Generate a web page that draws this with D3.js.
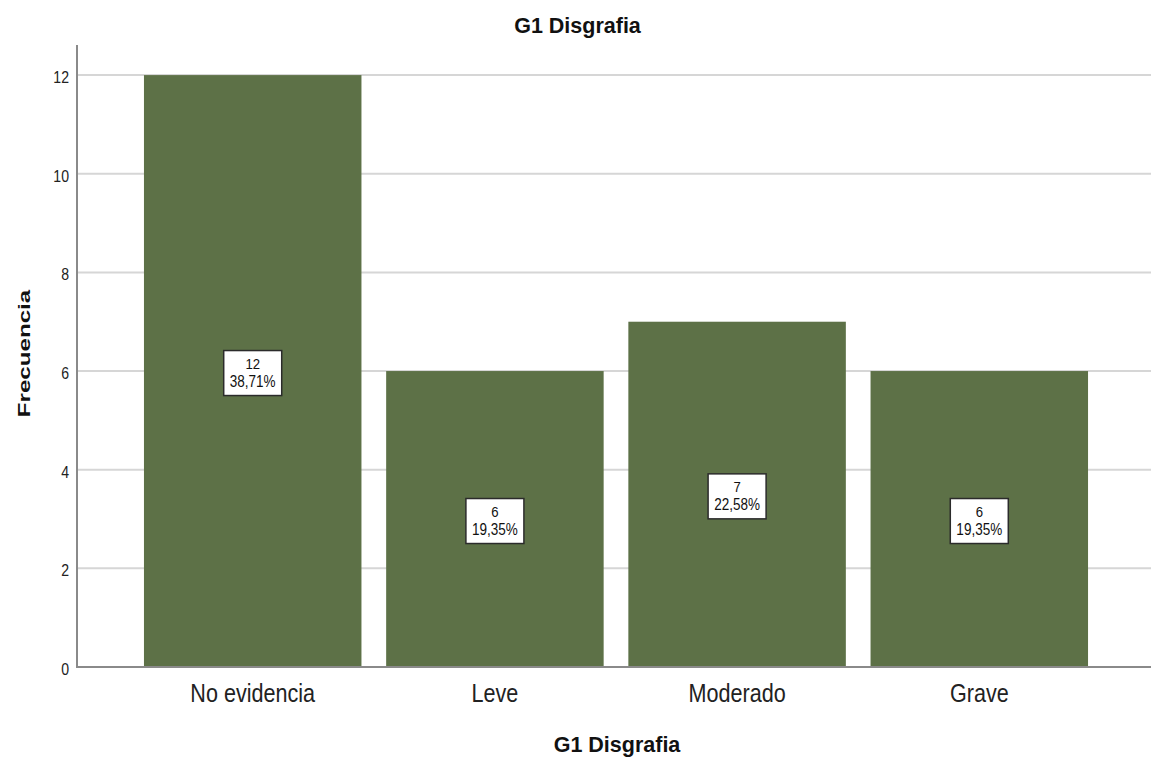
<!DOCTYPE html>
<html>
<head>
<meta charset="utf-8">
<script src="https://cdn.jsdelivr.net/npm/d3@7"></script>
<style>
  html, body { margin: 0; padding: 0; background: #fff; }
  svg { display: block; font-family: "Liberation Sans", Arial, sans-serif; }
</style>
</head>
<body>
<svg id="chart" width="1151" height="758"></svg>
<script>
// Frequency of G1 Disgrafia levels
const categories = ["No evidencia", "Leve", "Moderado", "Grave"];
const counts = [12, 6, 7, 6];
const percents = ["38,71%", "19,35%", "22,58%", "19,35%"];
const yTicks = [0, 2, 4, 6, 8, 10, 12];

const svg = d3.select("#chart");
const plotLeft = 77, plotRight = 1151, plotTop = 45, plotBottom = 667;

const x = d3.scaleBand()
  .domain(categories)
  .range([plotLeft, 1155])
  .paddingInner(0.102)
  .paddingOuter(0.2765);

const y = d3.scaleLinear()
  .domain([0, 12.61])
  .range([plotBottom, plotTop]);

const barColor = "#5d7147";

// horizontal grid lines
svg.append("g")
  .selectAll("line")
  .data(yTicks.filter(d => d > 0))
  .join("line")
  .attr("x1", plotLeft).attr("x2", plotRight)
  .attr("y1", d => y(d)).attr("y2", d => y(d))
  .attr("stroke", "#d6d6d6")
  .attr("stroke-width", 2);

// bars
svg.append("g")
  .selectAll("rect")
  .data(categories)
  .join("rect")
  .attr("x", d => x(d))
  .attr("y", (d, i) => y(counts[i]))
  .attr("width", x.bandwidth())
  .attr("height", (d, i) => y(0) - y(counts[i]))
  .attr("fill", barColor);

// axis lines
svg.append("line")
  .attr("x1", plotLeft).attr("x2", plotLeft)
  .attr("y1", plotTop).attr("y2", plotBottom)
  .attr("stroke", "#8a8a8a").attr("stroke-width", 2);
svg.append("line")
  .attr("x1", plotLeft - 1).attr("x2", plotRight)
  .attr("y1", plotBottom).attr("y2", plotBottom)
  .attr("stroke", "#8a8a8a").attr("stroke-width", 2);

// y tick labels
svg.append("g")
  .selectAll("text")
  .data(yTicks)
  .join("text")
  .attr("transform", d => `translate(69,${y(d) + 8}) scale(0.88,1)`)
  .attr("text-anchor", "end")
  .attr("font-size", 16)
  .attr("fill", "#222")
  .text(d => d);

// x tick labels
svg.append("g")
  .selectAll("text")
  .data(categories)
  .join("text")
  .attr("transform", d => `translate(${x(d) + x.bandwidth() / 2},701.5) scale(0.83,1)`)
  .attr("text-anchor", "middle")
  .attr("font-size", 26)
  .attr("fill", "#222")
  .text(d => d);

// value boxes inside bars
const boxW = 58, boxH = 45;
const labels = svg.append("g")
  .selectAll("g")
  .data(categories)
  .join("g")
  .attr("transform", (d, i) =>
    `translate(${x(d) + x.bandwidth() / 2},${y(counts[i] / 2) + 2})`);

labels.append("rect")
  .attr("x", -boxW / 2).attr("y", -boxH / 2)
  .attr("width", boxW).attr("height", boxH)
  .attr("fill", "#fff")
  .attr("stroke", "#2b2b2b")
  .attr("stroke-width", 1.5);

labels.append("text")
  .attr("transform", "translate(0,-4) scale(0.85,1)")
  .attr("text-anchor", "middle")
  .attr("font-size", 15.5)
  .attr("fill", "#111")
  .text((d, i) => counts[i]);

labels.append("text")
  .attr("transform", "translate(0,13.5) scale(0.82,1)")
  .attr("text-anchor", "middle")
  .attr("font-size", 16.5)
  .attr("fill", "#111")
  .text((d, i) => percents[i]);

// chart title
svg.append("text")
  .attr("x", 577.5).attr("y", 32.5)
  .attr("text-anchor", "middle")
  .attr("font-size", 21.5)
  .attr("font-weight", "bold")
  .attr("fill", "#111")
  .text("G1 Disgrafia");

// x axis title
svg.append("text")
  .attr("x", 617).attr("y", 751.5)
  .attr("text-anchor", "middle")
  .attr("font-size", 21.5)
  .attr("font-weight", "bold")
  .attr("fill", "#111")
  .text("G1 Disgrafia");

// y axis title
svg.append("text")
  .attr("transform", "translate(30,353.5) rotate(-90) scale(1.42,1)")
  .attr("text-anchor", "middle")
  .attr("font-size", 17)
  .attr("font-weight", "bold")
  .attr("fill", "#111")
  .text("Frecuencia");
</script>
</body>
</html>
